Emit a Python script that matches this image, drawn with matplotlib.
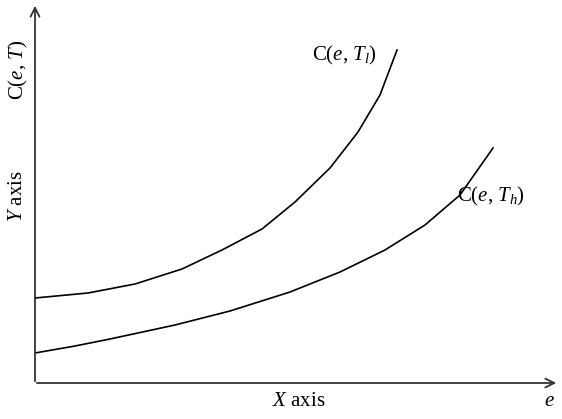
import matplotlib
matplotlib.use("Agg")
import matplotlib.pyplot as plt

plt.rcParams['font.family'] = ['Liberation Serif', 'DejaVu Serif']
plt.rcParams['mathtext.fontset'] = 'custom'
plt.rcParams['mathtext.rm'] = 'Liberation Serif'
plt.rcParams['mathtext.it'] = 'Liberation Serif:italic'

# curve values
e_low = [0, 53, 100, 147, 187, 227, 260, 295, 323, 345, 362]
c_low = [85, 90, 99, 114, 133, 154, 181, 215, 251, 288, 333]
e_high = [0, 40, 75, 140, 195, 255, 305, 350, 390, 425, 458]
c_high = [30, 37, 44, 58, 72, 91, 111, 133, 158, 188, 235]

fig = plt.figure(figsize=(5.62, 4.19), dpi=100)
ax = fig.add_axes([0, 0, 1, 1])
ax.set_xlim(-35, 527)
ax.set_ylim(-36, 383)
ax.axis('off')

axcol = '#333333'
ax.annotate('', xy=(524, 0), xytext=(-1, 0),
            arrowprops=dict(arrowstyle='->', color=axcol, lw=1.3, mutation_scale=16))
ax.annotate('', xy=(0, 380), xytext=(0, -1),
            arrowprops=dict(arrowstyle='->', color=axcol, lw=1.3, mutation_scale=16))

ax.plot(e_low, c_low, color='black', lw=1.2)
ax.plot(e_high, c_high, color='black', lw=1.2)

fs = 15
ax.text(277, 328, r'C($e$, $T_l$)', fontsize=fs, ha='left', va='center')
ax.text(422, 187, r'C($e$, $T_h$)', fontsize=fs, ha='left', va='center')
ax.text(264, -18, r'$X$ axis', fontsize=fs, ha='center', va='center')
ax.text(514, -18, r'$e$', fontsize=fs, ha='center', va='center')
ax.text(-17, 187, r'$Y$ axis', fontsize=fs, ha='center', va='center', rotation=90)
ax.text(-17, 313, r'C($e$, $T$)', fontsize=fs, ha='center', va='center', rotation=90)

plt.savefig('out.png', dpi=100)
